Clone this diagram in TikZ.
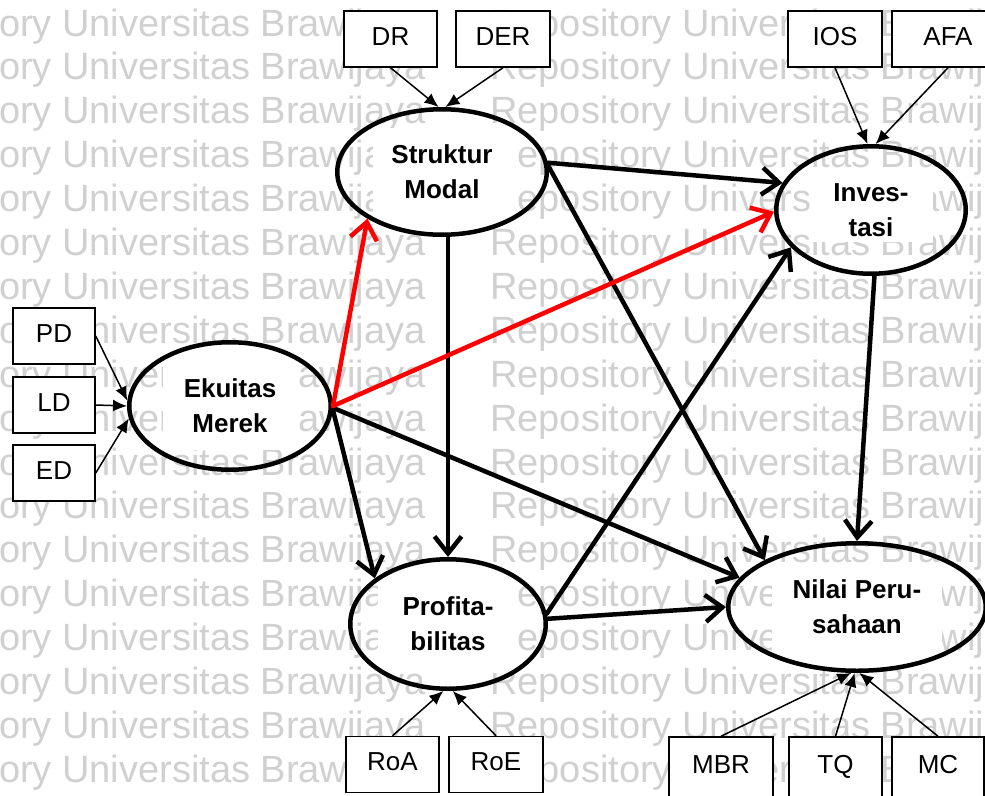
\documentclass[tikz,border=0pt]{standalone}
\usepackage{fontspec}
\setmainfont{Liberation Sans}
\usetikzlibrary{shapes.geometric, arrows.meta}
\definecolor{wmgray}{RGB}{208,208,208}
\definecolor{pathred}{RGB}{255,0,0}
\begin{document}
\begin{tikzpicture}[x=1pt, y=-1pt,
  wm/.style={font=\fontsize{38}{38}\selectfont, text=wmgray, anchor=base west, inner sep=0pt},
  ind/.style={draw, line width=1.5pt, fill=white, inner sep=0pt, minimum height=56pt,
              text height=19pt, text depth=7pt, font=\fontsize{26}{26}\selectfont},
  lat/.style={draw, ellipse, line width=4.5pt, inner sep=0pt, align=center,
              font=\bfseries\fontsize{26}{35}\selectfont},
  rel/.style={line width=4.5pt, line cap=round, line join=round,
              -{Straight Barb[length=17pt, width=27pt]}},
  load/.style={line width=1.5pt, -{Latex[length=14pt, width=12pt]}}
]
\useasboundingbox (0,0) rectangle (985,795);
\clip (0,0) rectangle (985,795);

% repeated background lettering
\foreach \k in {0,...,18} {
  \node[wm] (wmA\k) at (-130, -7.9+43.9*\k) {Repository Universitas Brawijaya};
  \node[wm] (wmB\k) at (490, -7.9+43.9*\k) {Repository Universitas Brawijaya};
}

% white backing behind the construct names
\fill[white] (373,128) rectangle (515,220);
\fill[white] (163,350) rectangle (298,450);
\fill[white] (813,175) rectangle (933,242);
\fill[white] (378,575) rectangle (517,673);
\fill[white] (772,572) rectangle (942,668);

% indicator boxes
\node[ind, minimum width=93pt]  (dr)  at (390.5,39) {DR};
\node[ind, minimum width=94pt]  (der) at (503,39)   {DER};
\node[ind, minimum width=94pt]  (ios) at (835,39)   {IOS};
\node[ind, minimum width=112pt] (afa) at (948,39)   {AFA};
\node[ind, minimum width=82pt]  (pd)  at (54,336)   {PD};
\node[ind, minimum width=82pt]  (ld)  at (54,405)   {LD};
\node[ind, minimum width=82pt]  (ed)  at (54,473)   {ED};
\node[ind, minimum width=93pt]  (roa) at (392.5,764.5) {RoA};
\node[ind, minimum width=94pt]  (roe) at (496,764.5)   {RoE};
\node[ind, minimum width=104pt, minimum height=60pt] (mbr) at (721,767)   {MBR};
\node[ind, minimum width=93pt,  minimum height=60pt] (tq)  at (835.5,767) {TQ};
\node[ind, minimum width=92pt,  minimum height=60pt] (mc)  at (938,767)   {MC};

% latent constructs
\node[lat, minimum width=209.5pt, minimum height=125.5pt] (sm)   at (442,172) {Struktur\\Modal};
\node[lat, minimum width=189.5pt, minimum height=127.5pt] (inv)  at (871,210) {Inves-\\tasi};
\node[lat, minimum width=201.5pt, minimum height=127.5pt] (ek)   at (230,406) {Ekuitas\\Merek};
\node[lat, minimum width=195.5pt, minimum height=129.5pt] (prof) at (448,624) {Profita-\\bilitas};
\node[lat, minimum width=257.5pt, minimum height=127.5pt] (nil)  at (857,607) {Nilai Peru-\\sahaan};

% structural paths
\draw[rel] (sm.5) -- (inv.163);
\draw[rel] (sm.3) -- (nil.153);
\draw[rel] (prof.north |- sm.south) -- (prof.north);
\draw[rel] (ek.-2) -- (prof.148);
\draw[rel] (ek.-1) -- (nil.166);
\draw[rel] (prof.6) -- (inv.205);
\draw[rel] (prof.3) -- (nil.180);
\draw[rel] (inv.273) -- (nil.north);
\draw[rel, pathred] (ek.east) -- (sm.212);
\draw[rel, pathred] (ek.east) -- (inv.181);

% measurement links
\draw[load] (dr.south)  -- (sm.93);
\draw[load] (der.south) -- (sm.87);
\draw[load] (ios.south) -- (inv.93);
\draw[load] (afa.south) -- (inv.86);
\draw[load] (pd.east)   -- (ek.177);
\draw[load] (ld.east)   -- (ek.180);
\draw[load] (ed.east)   -- (ek.187);
\draw[load] (roa.north) -- (prof.266);
\draw[load] (roe.north) -- (prof.274);
\draw[load] (mbr.north) -- (nil.265);
\draw[load] (tq.north)  -- (nil.268);
\draw[load] (mc.north)  -- (nil.272);
\end{tikzpicture}
\end{document}
